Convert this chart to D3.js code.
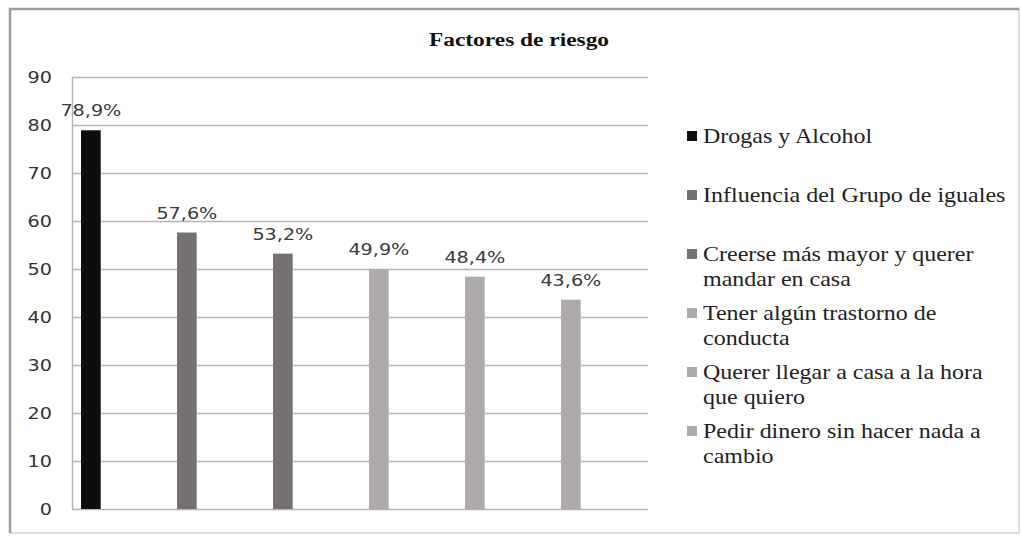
<!DOCTYPE html>
<html>
<head>
<meta charset="utf-8">
<script src="https://cdn.jsdelivr.net/npm/d3@7"></script>
<style>
  html, body { margin: 0; padding: 0; background: #fff; }
  svg { display: block; }
</style>
</head>
<body>
<svg id="chart" width="1021" height="536"></svg>
<script>
const categories = [
  "Drogas y Alcohol",
  "Influencia del Grupo de iguales",
  "Creerse más mayor y querer mandar en casa",
  "Tener algún trastorno de conducta",
  "Querer llegar a casa a la hora que quiero",
  "Pedir dinero sin hacer nada a cambio",
];
const values = [78.9, 57.6, 53.2, 49.9, 48.4, 43.6];
const colors = ["#0d0d0d", "#767171", "#767171", "#aeaaaa", "#aeaaaa", "#aeaaaa"];
const yTicks = [0, 10, 20, 30, 40, 50, 60, 70, 80, 90];

// the source picture is stretched sideways, so text gets a horizontal scale
const stretch = 1.2;

const svg = d3.select("#chart");
const margin = { top: 77, left: 72, right: 648, bottom: 509 };

// outer frame: darker top/left, faint right/bottom
const frame = svg.append("g").attr("fill", "none");
frame.append("path")
  .attr("d", "M1019,533 L1019,9 M10,533 L1019,533")
  .attr("stroke", "#dedede")
  .attr("stroke-width", 2);
frame.append("path")
  .attr("d", "M10,533 L10,9 L1019,9")
  .attr("stroke", "#9c9c9c")
  .attr("stroke-width", 2.5);

svg.append("text")
  .attr("transform", `translate(519,46) scale(${stretch},1)`)
  .attr("text-anchor", "middle")
  .style("font-family", "'Liberation Serif', 'Times New Roman', serif")
  .style("font-weight", "bold")
  .style("font-size", "19.5px")
  .attr("fill", "#111")
  .text("Factores de riesgo");

const x = d3.scaleBand()
  .domain(categories)
  .range([margin.left, margin.right]);

const y = d3.scaleLinear()
  .domain([0, 90])
  .range([margin.bottom, margin.top]);

// gridlines
svg.append("g")
  .selectAll("line")
  .data(yTicks)
  .join("line")
  .attr("x1", margin.left)
  .attr("x2", margin.right)
  .attr("y1", (d) => Math.round(y(d)) + 0.5)
  .attr("y2", (d) => Math.round(y(d)) + 0.5)
  .attr("stroke", "#b4b4b4")
  .attr("stroke-width", 1.5);

// y axis
const yAxis = svg.append("g")
  .attr("transform", `translate(${margin.left},0)`)
  .call(d3.axisLeft(y).tickValues(yTicks).tickSize(0).tickPadding(20));
yAxis.select(".domain").attr("stroke", "#b4b4b4").attr("stroke-width", 1.5);
yAxis.selectAll("text")
  .attr("x", -20 / stretch)
  .attr("transform", `scale(${stretch},1)`)
  .style("font-family", "'DejaVu Sans', Verdana, sans-serif")
  .style("font-size", "16px")
  .attr("fill", "#333");

// bars
const bw = x.bandwidth();
svg.append("g")
  .selectAll("rect")
  .data(values)
  .join("rect")
  .attr("x", (d, i) => x(categories[i]) + bw * 0.094)
  .attr("width", bw * 0.205)
  .attr("y", (d) => y(d))
  .attr("height", (d) => y(0) - y(d))
  .attr("fill", (d, i) => colors[i]);

// value labels
const locale = d3.formatLocale({ decimal: ",", thousands: ".", grouping: [3], currency: ["", "€"] });
const fmt = locale.format(".1f");
svg.append("g")
  .selectAll("text")
  .data(values)
  .join("text")
  .attr("transform", (d, i) => {
    const cx = x(categories[i]) + bw * 0.094 + bw * 0.1025;
    return `translate(${cx},${y(d) - 14}) scale(${stretch},1)`;
  })
  .attr("text-anchor", "middle")
  .style("font-family", "'DejaVu Sans', Verdana, sans-serif")
  .style("font-size", "16px")
  .attr("fill", "#3a3a3a")
  .text((d) => fmt(d) + "%");

// legend
const legend = svg.append("g")
  .style("font-family", "'Liberation Serif', 'Times New Roman', serif")
  .style("font-size", "20px")
  .attr("fill", "#222");

categories.forEach((name, i) => {
  const baseY = 143 + i * 59;
  legend.append("rect")
    .attr("x", 687).attr("y", baseY - 12)
    .attr("width", 10).attr("height", 10)
    .attr("fill", colors[i]);
  const text = legend.append("text")
    .attr("transform", `translate(703,${baseY}) scale(${stretch},1)`);
  const words = name.split(" ");
  let line = [];
  let tspan = text.append("tspan").attr("x", 0).attr("dy", 0);
  words.forEach((w) => {
    line.push(w);
    tspan.text(line.join(" "));
    if (tspan.node().getComputedTextLength() > 256 && line.length > 1) {
      line.pop();
      tspan.text(line.join(" "));
      line = [w];
      tspan = text.append("tspan").attr("x", 0).attr("dy", 25).text(w);
    }
  });
});
</script>
</body>
</html>
